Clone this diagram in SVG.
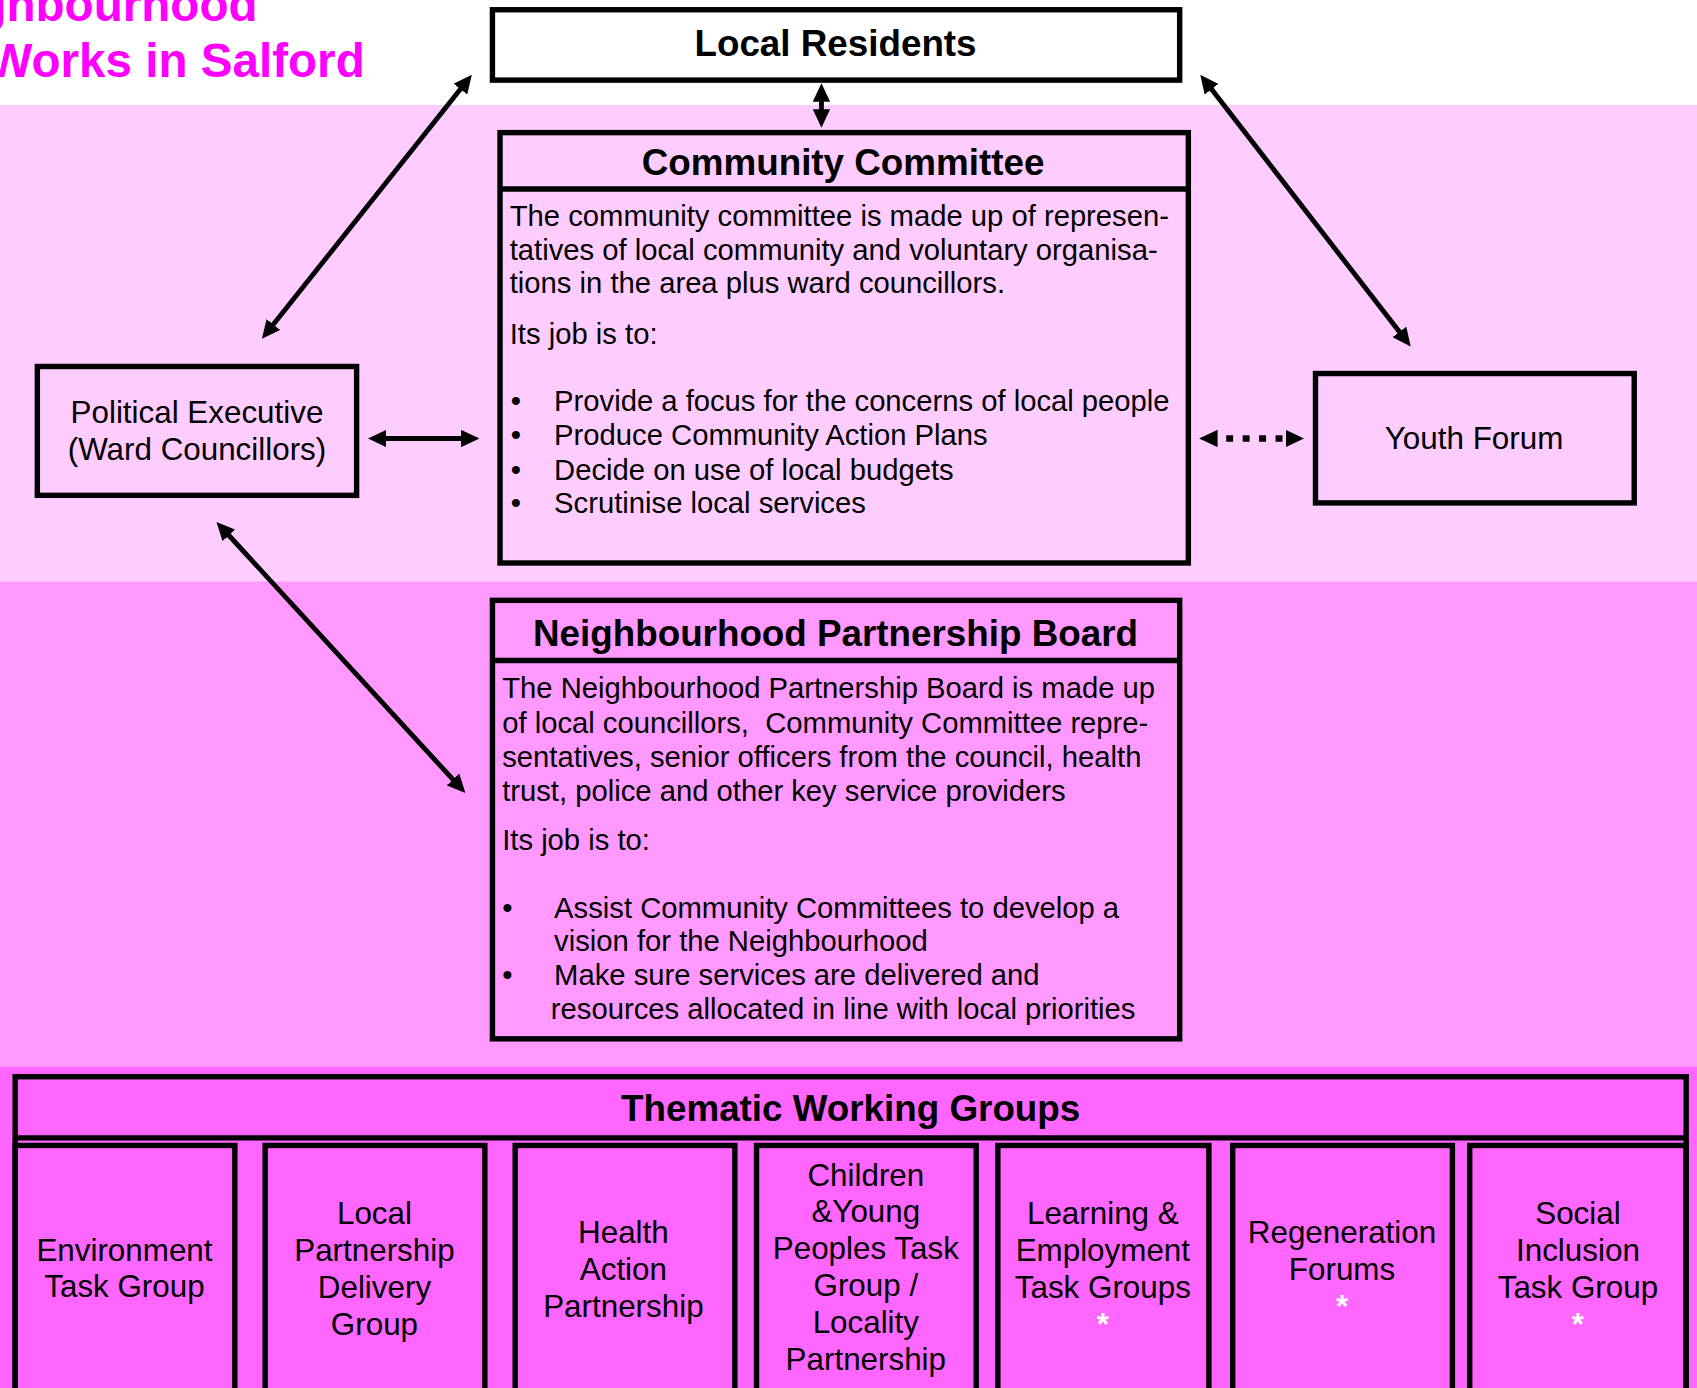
<svg xmlns="http://www.w3.org/2000/svg" width="1697" height="1388" viewBox="0 0 1697 1388">
<style>
.box{fill:none;stroke:#000;stroke-width:5}
.f{font-family:"Liberation Sans",Arial,Helvetica,sans-serif}
.h{font-family:"Liberation Sans",Arial,Helvetica,sans-serif;font-weight:bold;font-size:34px;text-anchor:middle;fill:#000}
.t{font-family:"Liberation Sans",Arial,Helvetica,sans-serif;font-size:27px;fill:#000;white-space:pre}
.c{font-family:"Liberation Sans",Arial,Helvetica,sans-serif;font-size:29px;text-anchor:middle;fill:#000}
.star{fill:#fff;font-weight:bold}
.conn{stroke:#000;stroke-width:4.5;fill:none}
.title{font-family:"Liberation Sans",Arial,Helvetica,sans-serif;font-weight:bold;font-size:44px;fill:#FF00FF;text-anchor:end}
</style>
<defs>
<marker id="ah" viewBox="0 0 17 16" refX="4" refY="8" markerWidth="17" markerHeight="16" markerUnits="userSpaceOnUse" orient="auto-start-reverse">
<path d="M0,0 L17,8 L0,16 z" fill="#000"/>
</marker>
</defs>
<g transform="scale(1.08227,1.08268)">
<g id="background">
<rect x="0" y="0" width="1568" height="97" fill="#FFFFFF"/>
<rect x="0" y="97" width="1568" height="440" fill="#FFCCFF"/>
<rect x="0" y="537" width="1568" height="448" fill="#FF99FF"/>
<rect x="0" y="985" width="1568" height="300" fill="#FF66FF"/>
</g>
<g id="title">
<text class="title" x="238" y="19">ghbourhood</text>
<text class="title" x="337" y="71">Works in Salford</text>
</g>
<g id="local-residents">
<rect class="box" x="455" y="9" width="635" height="65" fill="#FFFFFF" style="fill:#fff"/>
<text class="h" x="772" y="52">Local Residents</text>
</g>
<g id="community-committee">
<rect class="box" x="462" y="122.5" width="636" height="397.5"/>
<line x1="462" y1="174.5" x2="1098" y2="174.5" stroke="#000" stroke-width="5"/>
<text class="h" x="779" y="162">Community Committee</text>
<text class="t" x="471" y="209">The community committee is made up of represen-</text>
<text class="t" x="471" y="240">tatives of local community and voluntary organisa-</text>
<text class="t" x="471" y="271">tions in the area plus ward councillors.</text>
<text class="t" x="471" y="318">Its job is to:</text>
<text class="t" x="472" y="380">•</text>
<text class="t" x="512" y="380">Provide a focus for the concerns of local people</text>
<text class="t" x="472" y="411">•</text>
<text class="t" x="512" y="411">Produce Community Action Plans</text>
<text class="t" x="472" y="443">•</text>
<text class="t" x="512" y="443">Decide on use of local budgets</text>
<text class="t" x="472" y="474">•</text>
<text class="t" x="512" y="474">Scrutinise local services</text>
</g>
<g id="political-executive">
<rect class="box" x="34.5" y="338.5" width="295" height="119"/>
<text class="c" x="182" y="391">Political Executive</text>
<text class="c" x="182" y="425">(Ward Councillors)</text>
</g>
<g id="youth-forum">
<rect class="box" x="1215.5" y="345" width="294.5" height="119.5"/>
<text class="c" x="1362" y="415">Youth Forum</text>
</g>
<g id="neighbourhood-partnership-board">
<rect class="box" x="455" y="554.5" width="635" height="405"/>
<line x1="455" y1="610" x2="1090" y2="610" stroke="#000" stroke-width="5"/>
<text class="h" x="772" y="597">Neighbourhood Partnership Board</text>
<text class="t" x="464" y="645">The Neighbourhood Partnership Board is made up</text>
<text class="t" x="464" y="677">of local councillors,  Community Committee repre-</text>
<text class="t" x="464" y="708">sentatives, senior officers from the council, health</text>
<text class="t" x="464" y="740">trust, police and other key service providers</text>
<text class="t" x="464" y="785">Its job is to:</text>
<text class="t" x="464" y="848">•</text>
<text class="t" x="512" y="848">Assist Community Committees to develop a</text>
<text class="t" x="512" y="878">vision for the Neighbourhood</text>
<text class="t" x="464" y="910">•</text>
<text class="t" x="512" y="910">Make sure services are delivered and</text>
<text class="t" x="509" y="941">resources allocated in line with local priorities</text>
</g>
<g id="thematic-working-groups">
<rect class="box" x="14" y="994.5" width="1544" height="320"/>
<line x1="14" y1="1051" x2="1558" y2="1051" stroke="#000" stroke-width="5"/>
<text class="h" x="786" y="1035">Thematic Working Groups</text>
<g id="twg-environment">
<rect class="box" x="14" y="1058" width="203" height="260"/>
<text class="c" x="115" y="1165">Environment</text>
<text class="c" x="115" y="1198">Task Group</text>
</g>
<g id="twg-local-partnership">
<rect class="box" x="245" y="1058" width="203" height="260"/>
<text class="c" x="346" y="1131">Local</text>
<text class="c" x="346" y="1165">Partnership</text>
<text class="c" x="346" y="1199">Delivery</text>
<text class="c" x="346" y="1233">Group</text>
</g>
<g id="twg-health">
<rect class="box" x="476" y="1058" width="203" height="260"/>
<text class="c" x="576" y="1148">Health</text>
<text class="c" x="576" y="1182">Action</text>
<text class="c" x="576" y="1216">Partnership</text>
</g>
<g id="twg-children">
<rect class="box" x="699" y="1058" width="203" height="260"/>
<text class="c" x="800" y="1095">Children</text>
<text class="c" x="800" y="1129">&amp;Young</text>
<text class="c" x="800" y="1163">Peoples Task</text>
<text class="c" x="800" y="1197">Group /</text>
<text class="c" x="800" y="1231">Locality</text>
<text class="c" x="800" y="1265">Partnership</text>
</g>
<g id="twg-learning">
<rect class="box" x="922" y="1058" width="195" height="260"/>
<text class="c" x="1019" y="1131">Learning &amp;</text>
<text class="c" x="1019" y="1165">Employment</text>
<text class="c" x="1019" y="1199">Task Groups</text>
<text class="c star" x="1019" y="1233">*</text>
</g>
<g id="twg-regeneration">
<rect class="box" x="1139" y="1058" width="203" height="260"/>
<text class="c" x="1240" y="1148">Regeneration</text>
<text class="c" x="1240" y="1182">Forums</text>
<text class="c star" x="1240" y="1216">*</text>
</g>
<g id="twg-social">
<rect class="box" x="1358" y="1058" width="200" height="260"/>
<text class="c" x="1458" y="1131">Social</text>
<text class="c" x="1458" y="1165">Inclusion</text>
<text class="c" x="1458" y="1199">Task Group</text>
<text class="c star" x="1458" y="1233">*</text>
</g>
</g>
<g id="connectors">
<line class="conn" x1="759" y1="90" x2="759" y2="105" marker-start="url(#ah)" marker-end="url(#ah)"/>
<line class="conn" x1="250.1" y1="302.8" x2="427.9" y2="79.2" marker-start="url(#ah)" marker-end="url(#ah)"/>
<line class="conn" x1="1117" y1="79.3" x2="1295.5" y2="309.7" marker-start="url(#ah)" marker-end="url(#ah)"/>
<line class="conn" x1="208.8" y1="491.6" x2="421.2" y2="722.9" marker-start="url(#ah)" marker-end="url(#ah)"/>
<line class="conn" x1="353" y1="405" x2="430" y2="405" marker-start="url(#ah)" marker-end="url(#ah)"/>
<line class="conn" x1="1121" y1="405" x2="1192" y2="405" style="stroke-width:6" stroke-dasharray="0 12 6.4 8.8 6.4 8.8 6.4 8.8 6.4 100" marker-start="url(#ah)" marker-end="url(#ah)"/>
</g>
</g>
</svg>
